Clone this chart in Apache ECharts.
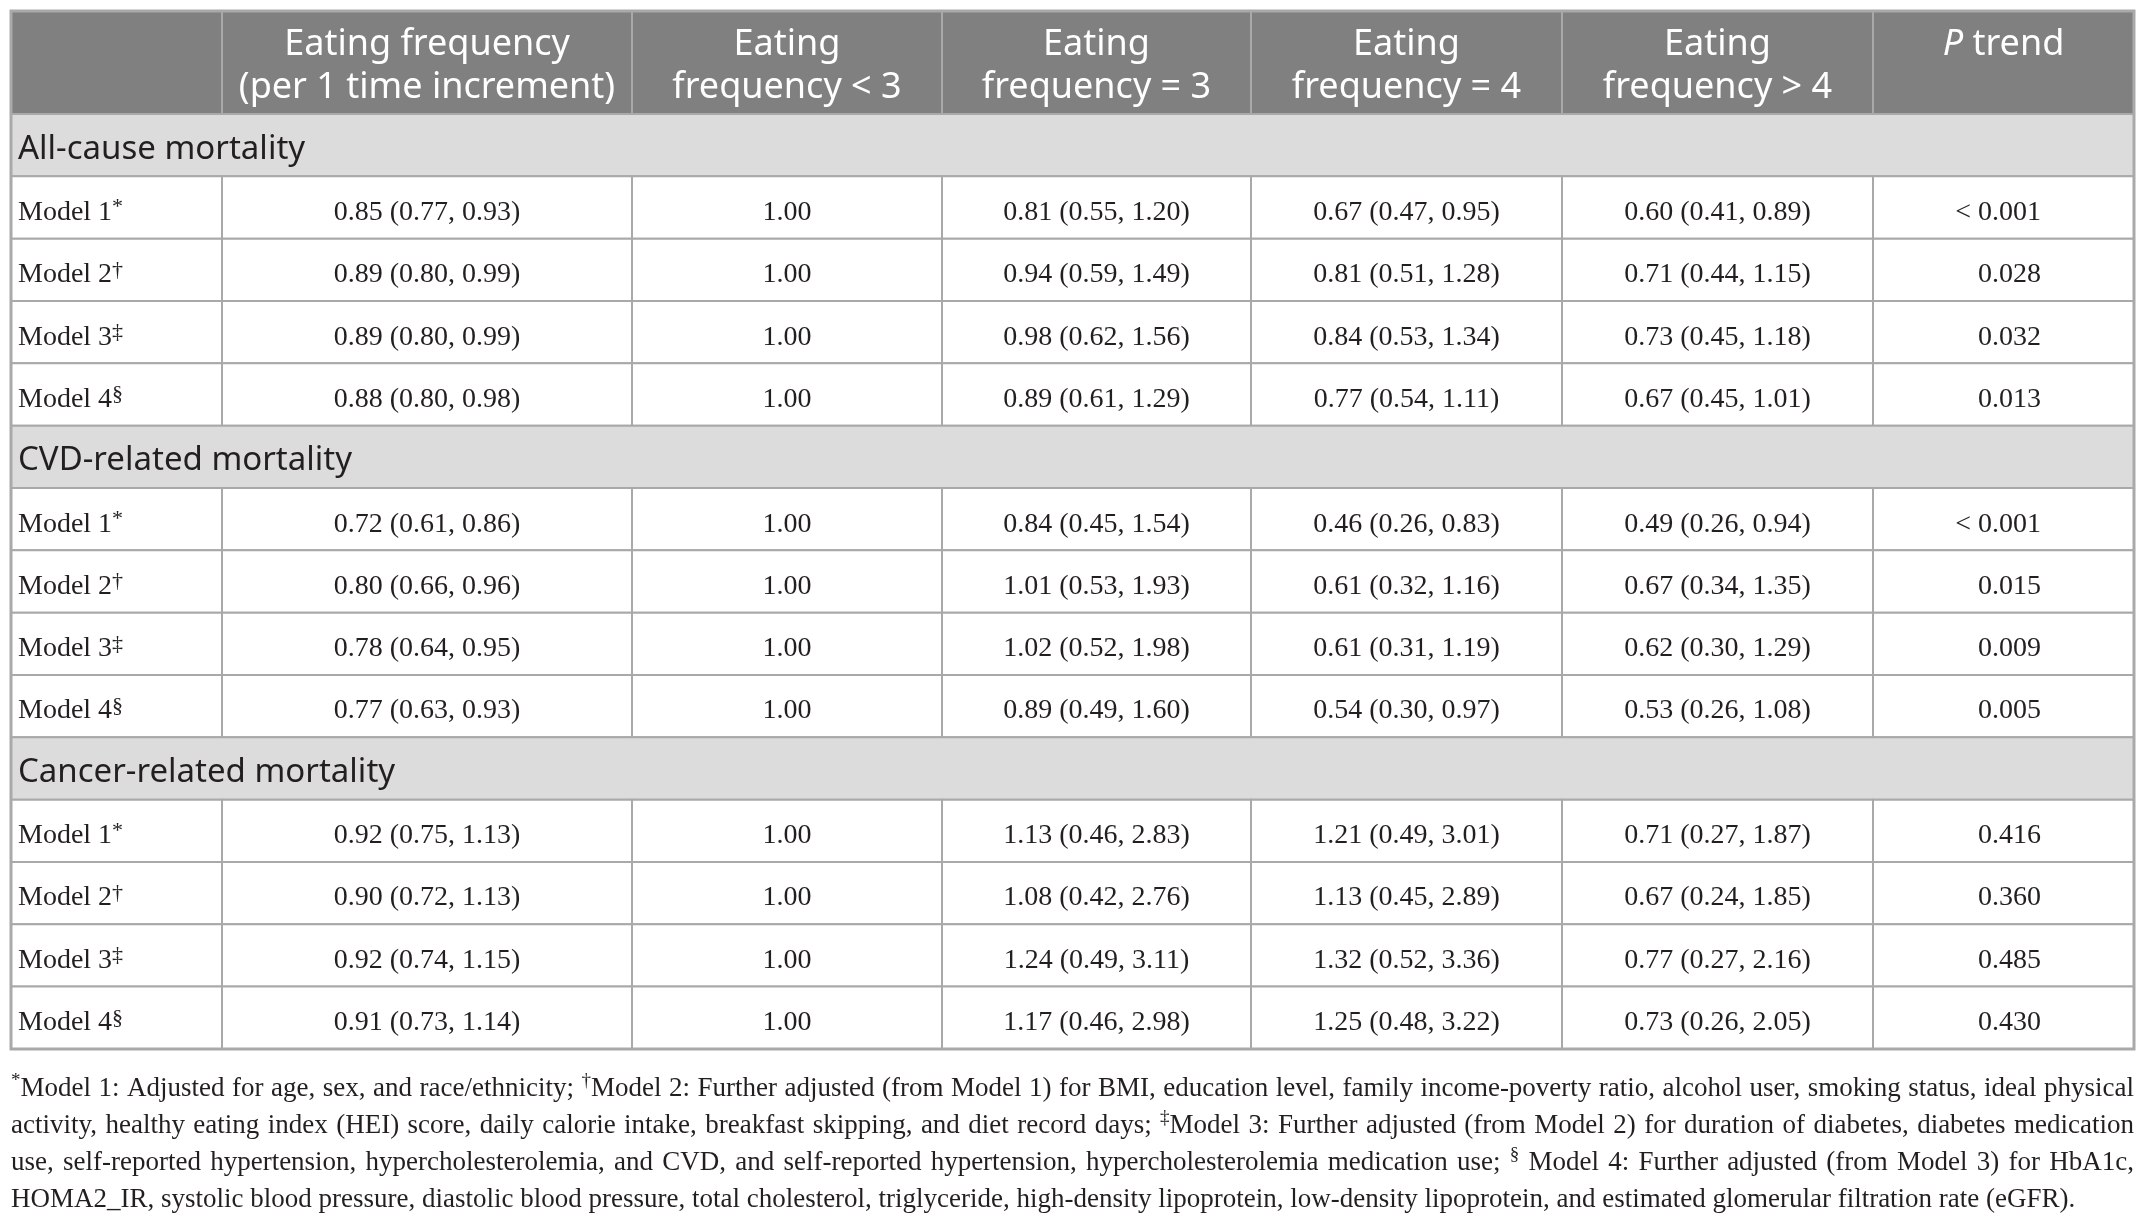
<!DOCTYPE html>
<html>
<head>
<meta charset="utf-8">
<script src="https://cdn.jsdelivr.net/npm/echarts@6/dist/echarts.min.js"></script>
<style>
html, body { margin: 0; padding: 0; background: #fff; }
#main { width: 2147px; height: 1226px; }
</style>
</head>
<body>
<div id="main"></div>
<script>
// ---- table content ----
var columnTitles = ['', 'Eating frequency\n(per 1 time increment)', 'Eating\nfrequency < 3',
  'Eating\nfrequency = 3', 'Eating\nfrequency = 4', 'Eating\nfrequency > 4', '{i|P} trend'];
var outcomes = ['All-cause mortality', 'CVD-related mortality', 'Cancer-related mortality'];
var models = ['Model 1', 'Model 2', 'Model 3', 'Model 4'];
var modelMarks = ['*', '†', '‡', '§'];

// HR (95% CI), 4 models x 3 outcomes
var perIncrement = [
  [0.85, 0.77, 0.93], [0.89, 0.80, 0.99], [0.89, 0.80, 0.99], [0.88, 0.80, 0.98],
  [0.72, 0.61, 0.86], [0.80, 0.66, 0.96], [0.78, 0.64, 0.95], [0.77, 0.63, 0.93],
  [0.92, 0.75, 1.13], [0.90, 0.72, 1.13], [0.92, 0.74, 1.15], [0.91, 0.73, 1.14]
];
var freqBelow3 = [1, 1, 1, 1, 1, 1, 1, 1, 1, 1, 1, 1];
var freqEq3 = [
  [0.81, 0.55, 1.20], [0.94, 0.59, 1.49], [0.98, 0.62, 1.56], [0.89, 0.61, 1.29],
  [0.84, 0.45, 1.54], [1.01, 0.53, 1.93], [1.02, 0.52, 1.98], [0.89, 0.49, 1.60],
  [1.13, 0.46, 2.83], [1.08, 0.42, 2.76], [1.24, 0.49, 3.11], [1.17, 0.46, 2.98]
];
var freqEq4 = [
  [0.67, 0.47, 0.95], [0.81, 0.51, 1.28], [0.84, 0.53, 1.34], [0.77, 0.54, 1.11],
  [0.46, 0.26, 0.83], [0.61, 0.32, 1.16], [0.61, 0.31, 1.19], [0.54, 0.30, 0.97],
  [1.21, 0.49, 3.01], [1.13, 0.45, 2.89], [1.32, 0.52, 3.36], [1.25, 0.48, 3.22]
];
var freqAbove4 = [
  [0.60, 0.41, 0.89], [0.71, 0.44, 1.15], [0.73, 0.45, 1.18], [0.67, 0.45, 1.01],
  [0.49, 0.26, 0.94], [0.67, 0.34, 1.35], [0.62, 0.30, 1.29], [0.53, 0.26, 1.08],
  [0.71, 0.27, 1.87], [0.67, 0.24, 1.85], [0.77, 0.27, 2.16], [0.73, 0.26, 2.05]
];
var pTrend = ['< 0.001', '0.028', '0.032', '0.013',
  '< 0.001', '0.015', '0.009', '0.005',
  '0.416', '0.360', '0.485', '0.430'];

// footnote lines, {x} = superscript
var footLines = [
  '{*}Model 1: Adjusted for age, sex, and race/ethnicity; {†}Model 2: Further adjusted (from Model 1) for BMI, education level, family income-poverty ratio, alcohol user, smoking status, ideal physical',
  'activity, healthy eating index (HEI) score, daily calorie intake, breakfast skipping, and diet record days; {‡}Model 3: Further adjusted (from Model 2) for duration of diabetes, diabetes medication',
  'use, self-reported hypertension, hypercholesterolemia, and CVD, and self-reported hypertension, hypercholesterolemia medication use; {§} Model 4: Further adjusted (from Model 3) for HbA1c,',
  'HOMA2_IR, systolic blood pressure, diastolic blood pressure, total cholesterol, triglyceride, high-density lipoprotein, low-density lipoprotein, and estimated glomerular filtration rate (eGFR).'
];

// ---- layout ----
var colWidths = [211, 410, 310, 309, 311, 311, 261];
var headerHeight = 103;
var rowHeight = 62.33;
var TEXT = '#231f20', LINE = '#a9a9a9';
var SERIF = 'Liberation Serif', SANS = 'Noto Sans';

var colEdges = [0];
colWidths.forEach(function (w) { colEdges.push(colEdges[colEdges.length - 1] + w); });
var rowEdges = [0, headerHeight];
for (var k = 0; k < 15; k++) rowEdges.push(headerHeight + (k + 1) * rowHeight);
var tableW = colEdges[colEdges.length - 1], tableH = rowEdges[rowEdges.length - 1];

function fmt(v) {
  if (typeof v === 'number') return v.toFixed(2);
  return v[0].toFixed(2) + ' (' + v[1].toFixed(2) + ', ' + v[2].toFixed(2) + ')';
}

var valueColumns = [perIncrement, freqBelow3, freqEq3, freqEq4, freqAbove4];
var cells = [];
columnTitles.forEach(function (t, i) {
  cells.push({ kind: 'head', c0: i, c1: i + 1, r: 0, text: t });
});
outcomes.forEach(function (name, s) {
  var r0 = 1 + s * 5;
  cells.push({ kind: 'section', c0: 0, c1: 7, r: r0, text: name });
  models.forEach(function (m, j) {
    var i = s * 4 + j, r = r0 + 1 + j;
    cells.push({ kind: 'label', c0: 0, c1: 1, r: r, text: m + '{s|' + modelMarks[j] + '}' });
    valueColumns.forEach(function (col, c) {
      cells.push({ kind: 'value', c0: c + 1, c1: c + 2, r: r, text: fmt(col[i]) });
    });
    cells.push({ kind: 'p', c0: 6, c1: 7, r: r, text: pTrend[i] });
  });
});
cells.push({ kind: 'frame', c0: 0, c1: 7, r: 0, r1: 16 });

function renderCell(params, api) {
  var c = cells[params.dataIndex];
  var p0 = api.coord([colEdges[c.c0], rowEdges[c.r]]);
  var p1 = api.coord([colEdges[c.c1], rowEdges[c.r1 != null ? c.r1 : c.r + 1]]);
  var x0 = p0[0], y0 = p0[1], x1 = p1[0], y1 = p1[1];
  var rect = { type: 'rect', shape: { x: x0, y: y0, width: x1 - x0, height: y1 - y0 },
    style: { fill: '#fff', stroke: LINE, lineWidth: 2 } };
  var text = null, ym = (y0 + y1) / 2;

  if (c.kind === 'frame') {
    rect.style = { fill: null, stroke: LINE, lineWidth: 3 };
    return rect;
  }
  if (c.kind === 'head') {
    rect.style.fill = '#808080';
    text = { text: c.text, x: (x0 + x1) / 2, y: y0 + 12, align: 'center', verticalAlign: 'top',
      textAlign: 'center', textVerticalAlign: 'top',
      fontSize: 36, fontFamily: SANS, lineHeight: 43, fill: '#fff',
      rich: { i: { fontSize: 36, fontFamily: SANS, fontStyle: 'italic', lineHeight: 43, fill: '#fff' } } };
  } else if (c.kind === 'section') {
    rect.style.fill = '#dcdcdc';
    text = { text: c.text, x: x0 + 7, y: ym + 4, align: 'left', verticalAlign: 'middle',
      textAlign: 'left', textVerticalAlign: 'middle',
      fontSize: 33, fontFamily: SANS, fill: TEXT };
  } else if (c.kind === 'label') {
    text = { text: c.text, x: x0 + 7, y: ym + 5, align: 'left', verticalAlign: 'middle',
      textAlign: 'left', textVerticalAlign: 'middle',
      fontSize: 28, fontFamily: SERIF, lineHeight: 32, fill: TEXT,
      rich: { s: { fontSize: 22, fontFamily: SERIF, lineHeight: 12, verticalAlign: 'top', fill: TEXT } } };
  } else if (c.kind === 'value') {
    text = { text: c.text, x: (x0 + x1) / 2, y: ym + 5, align: 'center', verticalAlign: 'middle',
      textAlign: 'center', textVerticalAlign: 'middle',
      fontSize: 28, fontFamily: SERIF, fill: TEXT };
  } else if (c.kind === 'p') {
    text = { text: c.text, x: x1 - 93, y: ym + 5, align: 'right', verticalAlign: 'middle',
      textAlign: 'right', textVerticalAlign: 'middle',
      fontSize: 28, fontFamily: SERIF, fill: TEXT };
  }
  return { type: 'group', children: [rect, { type: 'text', style: text }] };
}

// ---- footnote: justified lines built word by word ----
var footSize = 27, supSize = 19, footLeft = 11, footWidth = 2123;
var footY = [1089, 1126, 1163, 1200];
var ctx = document.createElement('canvas').getContext('2d');
function measure(str, size) {
  ctx.font = size + 'px "' + SERIF + '"';
  return ctx.measureText(str).width;
}
function splitWord(w) {
  var segs = [], re = /\{(.)\}/g, last = 0, m;
  while ((m = re.exec(w)) !== null) {
    if (m.index > last) segs.push({ t: w.slice(last, m.index), sup: false });
    segs.push({ t: m[1], sup: true });
    last = re.lastIndex;
  }
  if (last < w.length) segs.push({ t: w.slice(last), sup: false });
  segs.forEach(function (s) { s.w = measure(s.t, s.sup ? supSize : footSize); });
  return segs;
}
var footGraphics = [];
footLines.forEach(function (line, li) {
  var words = line.split(' ').map(splitWord);
  var widths = words.map(function (segs) {
    return segs.reduce(function (a, s) { return a + s.w; }, 0);
  });
  var total = widths.reduce(function (a, b) { return a + b; }, 0);
  var gap = li < footLines.length - 1 ? (footWidth - total) / (words.length - 1) : measure(' ', footSize);
  var x = footLeft;
  words.forEach(function (segs, wi) {
    var sx = x;
    segs.forEach(function (s) {
      footGraphics.push({ type: 'text', x: sx, y: footY[li] + (s.sup ? -8 : 0), silent: true,
        style: { text: s.t, fontSize: s.sup ? supSize : footSize, fontFamily: SERIF, fill: TEXT,
          align: 'left', verticalAlign: 'middle', textAlign: 'left', textVerticalAlign: 'middle' } });
      sx += s.w;
    });
    x += widths[wi] + gap;
  });
});

var chart = echarts.init(document.getElementById('main'));
chart.setOption({
  backgroundColor: '#fff',
  animation: false,
  grid: { left: 11, top: 11, width: tableW, height: tableH },
  xAxis: { type: 'value', min: 0, max: tableW, show: false },
  yAxis: { type: 'value', min: 0, max: tableH, inverse: true, show: false },
  series: [{
    type: 'custom',
    renderItem: renderCell,
    clip: false,
    data: cells.map(function (c) { return [colEdges[c.c0], rowEdges[c.r]]; })
  }],
  graphic: footGraphics
});
</script>
</body>
</html>
